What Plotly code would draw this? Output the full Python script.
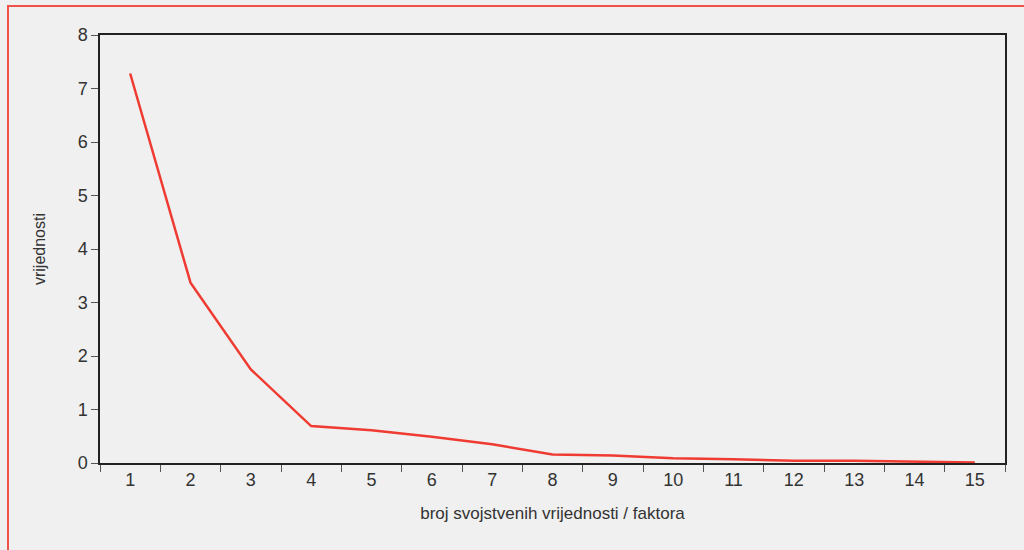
import plotly.graph_objects as go

factors = [str(i) for i in range(1, 16)]
values = [7.28, 3.37, 1.75, 0.69, 0.61, 0.49, 0.35, 0.16, 0.14, 0.09, 0.07, 0.04, 0.04, 0.02, 0.01]
y_ticks = [0, 1, 2, 3, 4, 5, 6, 7, 8]

x_title = "broj svojstvenih vrijednosti / faktora"
y_title = "vrijednosti"

W, H = 1024, 550
L, R, T, B = 100, 19, 35, 87
pw, ph = W - L - R, H - T - B

fig = go.Figure()
fig.add_trace(go.Scatter(
    x=factors, y=values, mode="lines",
    line=dict(color="#ef3b32", width=2.5),
    hoverinfo="skip", showlegend=False,
))

bg = "#eff0ef"
fig.update_layout(
    width=W, height=H,
    margin=dict(l=L, r=R, t=T, b=B),
    paper_bgcolor=bg, plot_bgcolor=bg,
    font=dict(family="Liberation Sans, Arial, sans-serif", color="#333333"),
    shapes=[dict(
        type="rect", xref="paper", yref="paper",
        x0=(8 - L) / pw, x1=(W + 20 - L) / pw,
        y0=(H - B - (H + 20)) / ph, y1=(H - B - 6) / ph,
        line=dict(color="#f0524a", width=2), fillcolor="rgba(0,0,0,0)",
        layer="below",
    )],
)

fig.update_xaxes(
    type="category", tickson="boundaries", range=[-0.5, 14.5],
    ticks="outside", ticklen=7, tickcolor="#555555", tickwidth=1,
    showline=True, linecolor="#222222", linewidth=1.5, mirror=True,
    showgrid=False, zeroline=False,
    tickfont=dict(size=18, color="#333333"),
    title=dict(text=x_title, font=dict(size=17, color="#333333"), standoff=18),
)
fig.update_yaxes(
    range=[0, 8], tickvals=y_ticks,
    ticks="outside", ticklen=7, tickcolor="#555555", tickwidth=1,
    showline=True, linecolor="#222222", linewidth=1.5, mirror=True,
    showgrid=False, zeroline=False,
    tickfont=dict(size=18, color="#333333"),
    title=dict(text=y_title, font=dict(size=16, color="#333333"), standoff=28),
)

fig.write_html(
    "out.html",
    config={"displayModeBar": False},
    post_script="document.body.style.margin='0';document.body.style.background='%s';" % bg,
)
